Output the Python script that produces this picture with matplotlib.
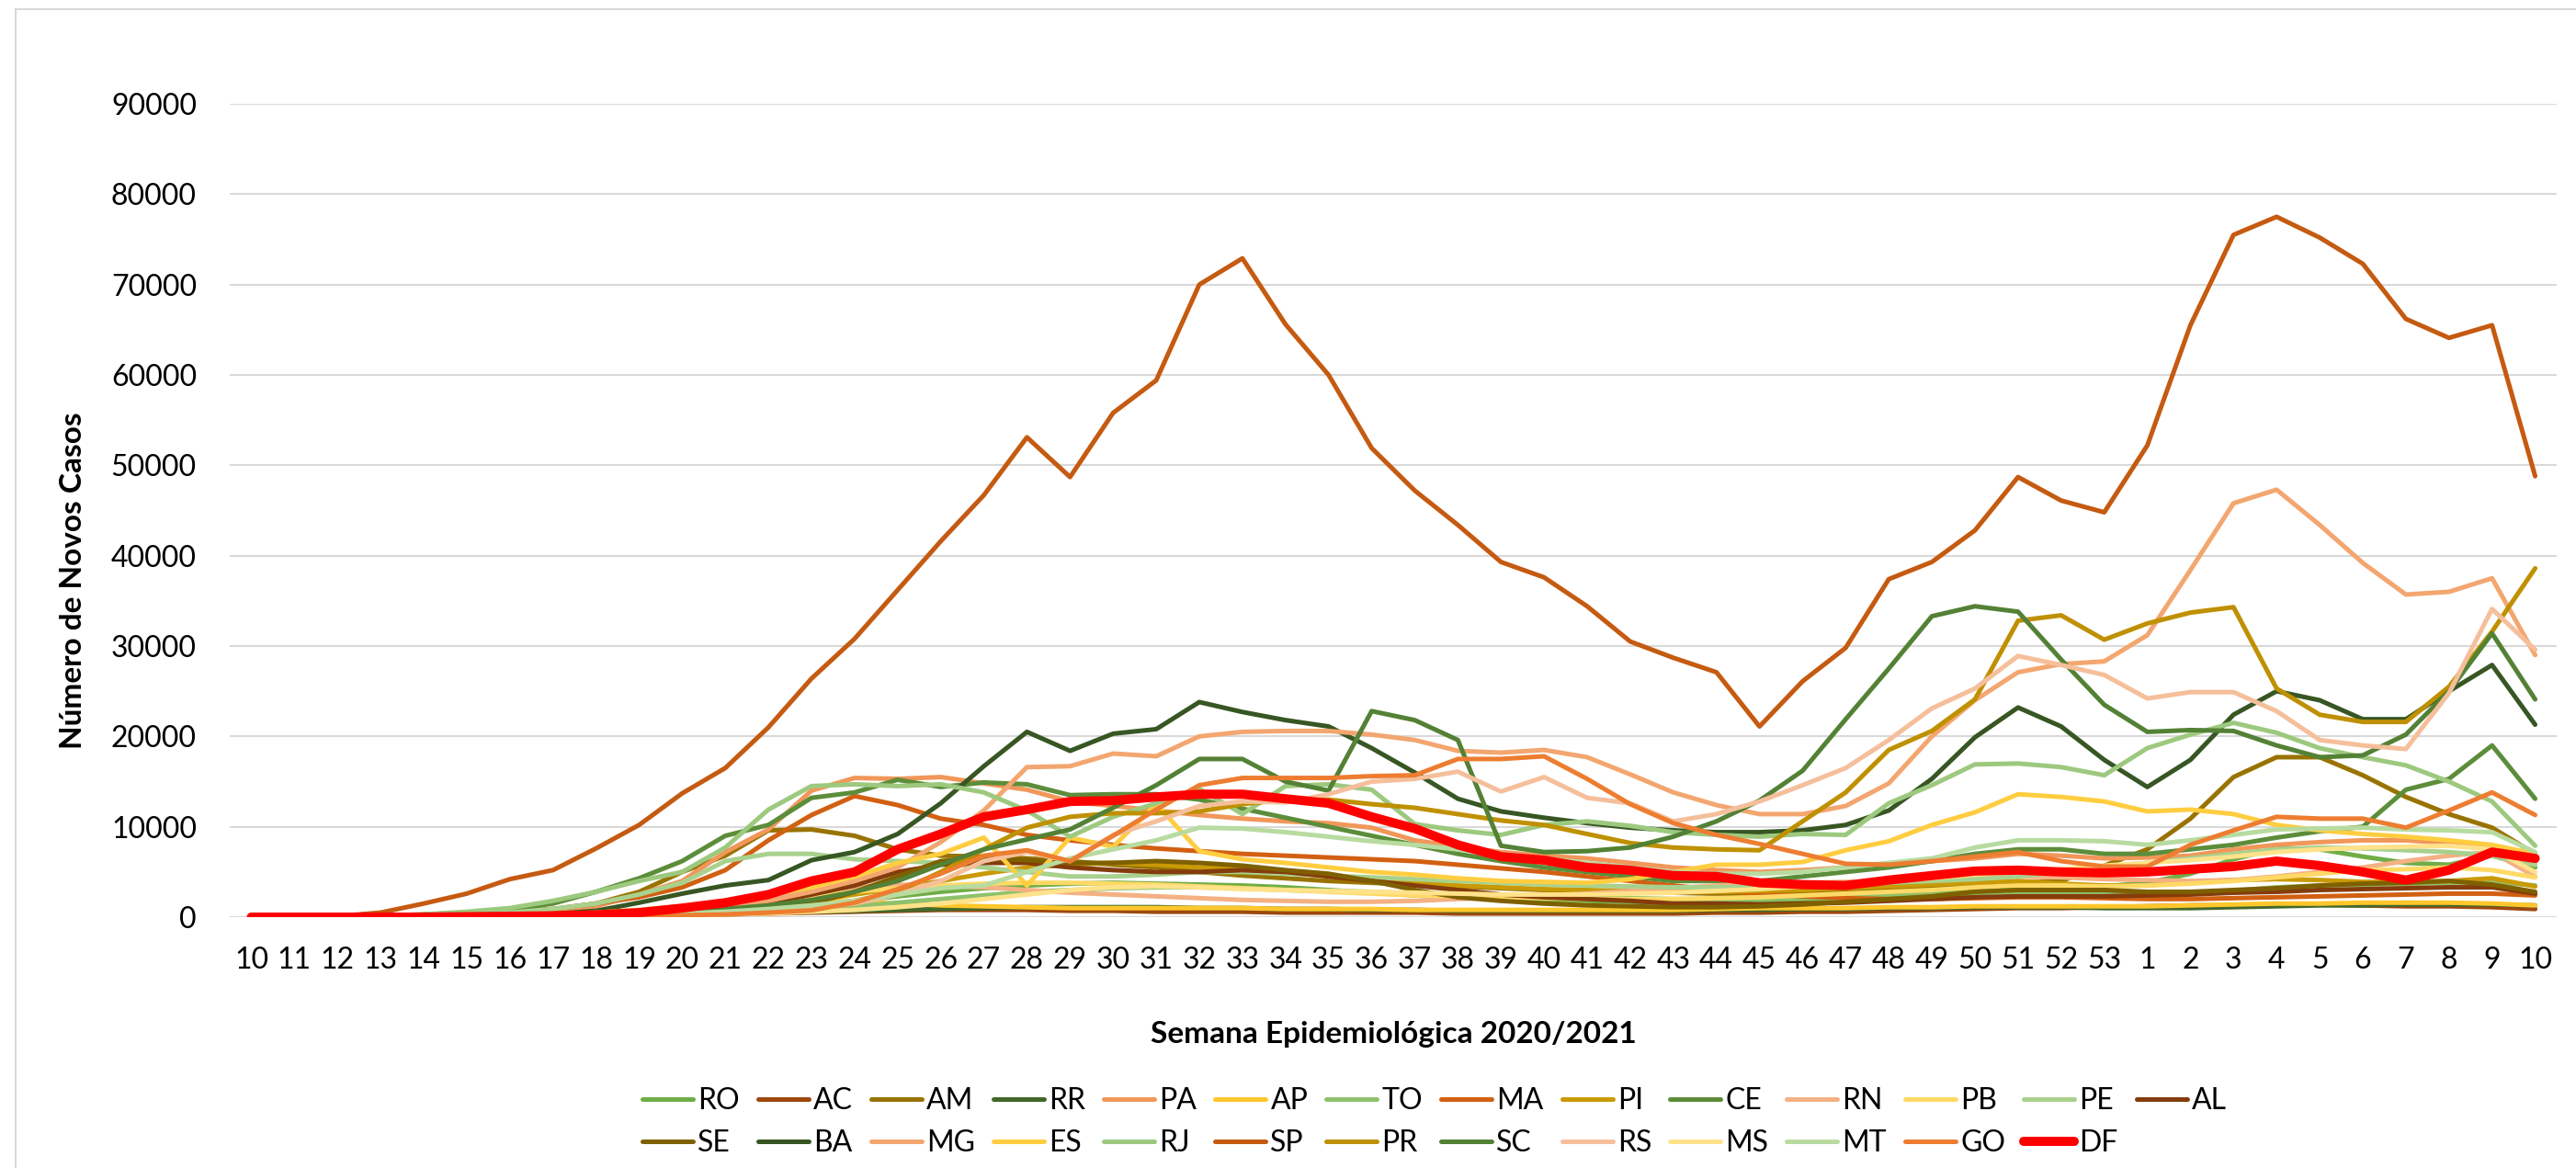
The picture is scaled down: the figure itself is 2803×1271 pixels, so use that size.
import numpy as np
import matplotlib.pyplot as plt
from matplotlib.lines import Line2D

W, H = 2803, 1271
plt.rcParams['font.family'] = ['Lato', 'DejaVu Sans']

# Semanas epidemiológicas 2020 (10-53) e 2021 (1-10)
semanas = [str(s) for s in range(10, 54)] + [str(s) for s in range(1, 11)]

# Novos casos por semana, um array por UF
RO = [0, 0, 0, 0, 0, 0, 50, 100, 150, 250,
      400, 700, 1000, 1400, 1800, 2300, 2800, 3200, 3500, 3700,
      3800, 3700, 3600, 3500, 3300, 3000, 2700, 2400, 2200, 2000,
      1900, 1800, 1700, 1600, 1600, 1700, 1900, 2200, 2500, 2800,
      3000, 3200, 3300, 3400,
      3800, 4800, 6400, 7600, 7500, 6700, 6000, 5800, 6800, 5500]
AC = [0, 0, 0, 0, 0, 0, 0, 50, 100, 150,
      200, 300, 400, 500, 600, 700, 800, 800, 800, 700,
      700, 600, 600, 600, 500, 500, 500, 500, 400, 400,
      400, 400, 400, 400, 500, 500, 600, 600, 700, 800,
      900, 1000, 1000, 1100,
      1200, 1300, 1300, 1400, 1400, 1300, 1200, 1200, 1100, 900]
AM = [0, 0, 0, 50, 150, 300, 500, 800, 1500, 2800,
      5000, 6800, 9600, 9700, 9000, 7500, 6800, 6700, 6500, 6200,
      5800, 5500, 5000, 4600, 4300, 4000, 3800, 3600, 3400, 3200,
      3000, 2900, 2800, 2700, 2600, 2600, 2700, 2900, 3100, 3300,
      3500, 3800, 4000, 5700,
      7500, 10900, 15500, 17700, 17700, 15700, 13300, 11400, 9900, 7000]
RR = [0, 0, 0, 0, 0, 0, 50, 100, 150, 200,
      300, 400, 500, 600, 700, 800, 900, 1000, 1100, 1100,
      1100, 1100, 1000, 1000, 900, 900, 800, 800, 700, 700,
      700, 700, 700, 700, 800, 800, 900, 900, 1000, 1000,
      1100, 1100, 1100, 1000,
      1000, 1000, 1100, 1200, 1300, 1300, 1400, 1400, 1400, 1300]
PA = [0, 0, 0, 50, 100, 200, 400, 700, 1200, 2500,
      4000, 7200, 9700, 14000, 15400, 15300, 15500, 14800, 14100, 12800,
      12300, 11800, 11300, 10900, 10600, 10400, 9900, 8500, 7800, 7200,
      6800, 6500, 6000, 5500, 5200, 5000, 5200, 5500, 5800, 6200,
      6500, 7000, 6800, 6500,
      6600, 6800, 7500, 8000, 8300, 8500, 8500, 8200, 7800, 6000]
AP = [0, 0, 0, 0, 50, 100, 200, 300, 500, 700,
      1000, 1300, 1600, 1800, 1700, 1500, 1300, 1200, 1100, 1000,
      1000, 1000, 1000, 1000, 900, 900, 900, 800, 800, 800,
      800, 800, 800, 800, 900, 1000, 1000, 1000, 1100, 1100,
      1200, 1200, 1200, 1200,
      1200, 1300, 1400, 1500, 1500, 1600, 1600, 1600, 1500, 1300]
TO = [0, 0, 0, 0, 0, 0, 0, 50, 100, 150,
      250, 400, 600, 900, 1200, 1600, 2000, 2400, 2800, 3000,
      3200, 3300, 3300, 3200, 3000, 2900, 2800, 2600, 2500, 2400,
      2300, 2200, 2100, 2000, 2000, 2000, 2100, 2200, 2300, 2500,
      2600, 2700, 2600, 2500,
      2600, 2700, 2900, 3300, 3500, 3600, 3700, 3800, 3900, 3500]
MA = [0, 0, 0, 100, 200, 400, 600, 900, 1500, 2200,
      3300, 5200, 8500, 11300, 13400, 12400, 10900, 10200, 9100, 8500,
      8000, 7600, 7300, 7000, 6800, 6600, 6400, 6200, 5800, 5400,
      5000, 4500, 4000, 3500, 3000, 2600, 2300, 2100, 2000, 2000,
      2100, 2200, 2200, 2100,
      2000, 2000, 2100, 2200, 2300, 2400, 2500, 2600, 2600, 2400]
PI = [0, 0, 0, 0, 0, 0, 50, 100, 150, 300,
      500, 800, 1200, 1800, 2500, 3200, 4000, 4800, 5500, 5800,
      6000, 5800, 5500, 5300, 5000, 4600, 4200, 3800, 3500, 3300,
      3100, 3000, 2900, 2800, 2800, 2900, 3000, 3200, 3400, 3600,
      3800, 4000, 3700, 3500,
      3500, 3900, 4100, 4200, 4100, 3900, 3900, 4000, 4300, 3400]
CE = [0, 0, 50, 150, 300, 500, 800, 1500, 2800, 4300,
      6200, 9000, 10200, 13200, 13800, 15200, 14400, 14900, 14700, 13500,
      13600, 13600, 13000, 12000, 11000, 10000, 9000, 8000, 7000, 6200,
      5500, 5000, 4500, 4000, 4000, 4000, 4500, 5000, 5500, 6200,
      7000, 7500, 7500, 7000,
      7000, 7500, 8000, 8800, 9500, 10000, 14100, 15300, 19000, 13100]
RN = [0, 0, 0, 0, 50, 100, 150, 250, 400, 700,
      1100, 1600, 2200, 2800, 3300, 3600, 3500, 3300, 3000, 2700,
      2500, 2300, 2100, 1900, 1800, 1700, 1700, 1800, 2000, 2200,
      2400, 2600, 2900, 3200, 3500, 3700, 3800, 3900, 4000, 4100,
      4300, 4500, 4400, 4200,
      4100, 4000, 4100, 4500, 5000, 5500, 6200, 6800, 7200, 4500]
PB = [0, 0, 0, 0, 0, 50, 100, 150, 300, 500,
      800, 1200, 1700, 2300, 2800, 3200, 3500, 3700, 3800, 3800,
      3700, 3600, 3400, 3200, 3000, 2800, 2600, 2400, 2300, 2200,
      2100, 2000, 2000, 2000, 2100, 2200, 2400, 2600, 2800, 3000,
      3300, 3500, 3500, 3400,
      3500, 3700, 4000, 4400, 4800, 5200, 5300, 5500, 5200, 4400]
PE = [0, 0, 0, 50, 150, 300, 500, 900, 1500, 2500,
      3800, 6200, 7000, 7000, 6400, 6200, 6000, 5500, 5000, 4500,
      4500, 4700, 5000, 5000, 4800, 4600, 4400, 4200, 4000, 3800,
      3600, 3500, 3400, 3300, 3300, 3400, 3500, 3600, 3800, 4000,
      4200, 4500, 5000, 5500,
      6000, 6500, 7000, 7500, 7700, 7600, 7400, 7200, 6800, 5800]
AL = [0, 0, 0, 0, 0, 0, 50, 100, 150, 200,
      300, 700, 1500, 2500, 3500, 5000, 5800, 6000, 6000, 5500,
      5200, 5000, 5000, 5200, 5000, 4500, 4000, 3500, 3000, 2500,
      2200, 2000, 1800, 1500, 1500, 1400, 1500, 1600, 1800, 2000,
      2200, 2300, 2300, 2300,
      2400, 2500, 2700, 2800, 3000, 3100, 3200, 3300, 3300, 2600]
SE = [0, 0, 0, 0, 0, 0, 0, 50, 100, 150,
      200, 400, 800, 1500, 2800, 4500, 6200, 6500, 6300, 6000,
      6000, 6200, 6000, 5700, 5200, 4800, 4000, 3000, 2200, 1800,
      1500, 1300, 1200, 1100, 1100, 1200, 1400, 1700, 2000, 2300,
      2800, 3000, 3000, 3000,
      2800, 2800, 3000, 3200, 3500, 3700, 3800, 4000, 3600, 2800]
BA = [0, 0, 0, 0, 50, 100, 200, 350, 700, 1600,
      2600, 3500, 4100, 6300, 7200, 9200, 12600, 16700, 20500, 18400,
      20300, 20800, 23800, 22700, 21800, 21100, 18700, 16000, 13100, 11700,
      11000, 10400, 9900, 9600, 9400, 9400, 9600, 10200, 11800, 15300,
      19900, 23200, 21100, 17400,
      14400, 17400, 22400, 25000, 24000, 21900, 21900, 25000, 27900, 21300]
MG = [0, 0, 0, 0, 50, 100, 150, 200, 300, 450,
      700, 1100, 1800, 2800, 4000, 5500, 8300, 11800, 16600, 16700,
      18100, 17800, 20000, 20500, 20600, 20600, 20200, 19600, 18400, 18200,
      18500, 17700, 15800, 13800, 12400, 11400, 11400, 12300, 14800, 20000,
      24000, 27100, 28000, 28300,
      31200, 38400, 45800, 47300, 43400, 39200, 35700, 36000, 37500, 29000]
ES = [0, 0, 0, 0, 50, 100, 200, 300, 500, 800,
      1200, 1800, 2500, 3300, 4500, 6000, 7000, 8800, 3500, 8800,
      7800, 12500, 7300, 6400, 6000, 5500, 5000, 4700, 4300, 4000,
      3900, 3800, 4200, 5000, 5800, 5800, 6100, 7400, 8400, 10200,
      11600, 13600, 13300, 12800,
      11700, 11900, 11400, 10200, 9600, 9200, 8900, 8500, 8000, 7000]
RJ = [0, 0, 0, 100, 300, 600, 1000, 1800, 2800, 4000,
      5000, 7700, 11900, 14500, 14700, 14500, 14700, 13800, 11800, 8900,
      11100, 12600, 14200, 11400, 14500, 14700, 14100, 10300, 9600, 9100,
      10200, 10600, 10100, 9400, 9100, 8900, 9200, 9100, 12600, 14600,
      16900, 17000, 16600, 15700,
      18700, 20200, 21500, 20400, 18700, 17700, 16800, 15000, 12800, 7900]
SP = [0, 0, 100, 500, 1500, 2600, 4200, 5200, 7600, 10200,
      13700, 16500, 21000, 26400, 30800, 36200, 41600, 46700, 53100, 48700,
      55800, 59400, 70000, 72900, 65600, 60000, 51900, 47200, 43400, 39300,
      37600, 34400, 30500, 28700, 27100, 21100, 26100, 29800, 37400, 39300,
      42800, 48700, 46100, 44800,
      52200, 65500, 75500, 77500, 75200, 72300, 66200, 64100, 65500, 48800]
PR = [0, 0, 0, 0, 0, 50, 100, 150, 200, 300,
      400, 550, 800, 1200, 1800, 2800, 5000, 7500, 9900, 11100,
      11500, 11500, 11700, 12500, 13000, 13000, 12500, 12100, 11400, 10700,
      10200, 9200, 8200, 7700, 7500, 7400, 10600, 13800, 18500, 20600,
      24100, 32800, 33400, 30700,
      32500, 33700, 34300, 25300, 22400, 21600, 21600, 25500, 31600, 38600]
SC = [0, 0, 0, 0, 0, 50, 100, 150, 250, 400,
      600, 900, 1300, 1900, 2800, 4000, 5800, 7500, 8600, 9700,
      12100, 14600, 17500, 17500, 15000, 14000, 22800, 21800, 19600, 7900,
      7200, 7300, 7700, 8900, 10600, 12900, 16200, 21900, 27500, 33300,
      34400, 33800, 28500, 23500,
      20500, 20700, 20600, 19000, 17700, 17900, 20200, 25000, 31400, 24100]
RS = [0, 0, 0, 0, 0, 50, 100, 150, 200, 250,
      300, 400, 600, 900, 1500, 2500, 4000, 6200, 7200, 6200,
      9100, 10600, 12300, 12800, 12700, 13600, 15000, 15300, 16100, 13900,
      15500, 13200, 12600, 10600, 11400, 12800, 14600, 16500, 19600, 23100,
      25300, 28900, 27900, 26800,
      24200, 24900, 24900, 22800, 19600, 19000, 18600, 24800, 34100, 29600]
MS = [0, 0, 0, 0, 0, 0, 0, 50, 100, 150,
      200, 300, 400, 600, 800, 1100, 1500, 2000, 2500, 3000,
      3300, 3400, 3300, 3100, 3000, 2900, 2800, 2700, 2600, 2500,
      2500, 2500, 2600, 2700, 2900, 3100, 3400, 3700, 4000, 4300,
      4700, 5000, 5300, 5700,
      6000, 6300, 6700, 7200, 7500, 7700, 7800, 7900, 7500, 5000]
MT = [0, 0, 0, 0, 0, 0, 50, 100, 150, 250,
      400, 600, 900, 1300, 1800, 2500, 3200, 3500, 5000, 6500,
      7500, 8500, 9900, 9800, 9400, 8900, 8400, 8000, 7500, 7000,
      6500, 6000, 5500, 5000, 4800, 4800, 5000, 5500, 6000, 6500,
      7700, 8500, 8500, 8400,
      8000, 8500, 9100, 9700, 9800, 9900, 9700, 9600, 9400, 7200]
GO = [0, 0, 0, 0, 0, 0, 0, 50, 100, 150,
      200, 300, 500, 750, 1600, 3100, 4800, 6800, 7400, 6200,
      9000, 11900, 14600, 15400, 15400, 15400, 15600, 15700, 17500, 17500,
      17800, 15300, 12500, 10400, 9100, 8100, 7000, 5900, 5800, 6200,
      6700, 7200, 6200, 5600,
      5600, 8000, 9600, 11100, 10900, 10900, 9900, 11800, 13800, 11300]
DF = [0, 0, 0, 0, 0, 50, 100, 150, 250, 500,
      1000, 1600, 2500, 4000, 5000, 7500, 9200, 11100, 11900, 12800,
      12900, 13300, 13600, 13600, 13100, 12600, 11100, 9800, 8000, 6700,
      6300, 5500, 5200, 4600, 4500, 3800, 3600, 3500, 4100, 4600,
      5100, 5200, 5000, 4900,
      5000, 5300, 5600, 6200, 5700, 5000, 4100, 5200, 7200, 6500]

series = [
    ("RO", RO, "#70AD47"), ("AC", AC, "#9E480E"), ("AM", AM, "#997300"),
    ("RR", RR, "#43682B"), ("PA", PA, "#F1975A"), ("AP", AP, "#FFC72C"),
    ("TO", TO, "#8FC16C"), ("MA", MA, "#D26012"), ("PI", PI, "#C99A06"),
    ("CE", CE, "#5C8D3A"), ("RN", RN, "#F4B183"), ("PB", PB, "#FFD966"),
    ("PE", PE, "#A9D18E"), ("AL", AL, "#843C0C"), ("SE", SE, "#7F6000"),
    ("BA", BA, "#375623"), ("MG", MG, "#F3A66F"), ("ES", ES, "#FFCD40"),
    ("RJ", RJ, "#9DC97F"), ("SP", SP, "#C55A11"), ("PR", PR, "#BF9000"),
    ("SC", SC, "#538135"), ("RS", RS, "#F5BF9B"), ("MS", MS, "#FFE28A"),
    ("MT", MT, "#B8DBA0"), ("GO", GO, "#ED7D31"), ("DF", DF, "#FF0000"),
]

fig = plt.figure(figsize=(W / 100, H / 100), dpi=100)
ax = fig.add_axes([250 / W, 1 - 998 / H, (2782 - 250) / W, (998 - 113) / H])

x = np.arange(len(semanas))
linhas = {}
for uf, vals, cor in series:
    lw = 7.2 if uf == "DF" else 3.6
    h, = ax.plot(x, vals, color=cor, lw=lw, solid_capstyle="round",
                 solid_joinstyle="round", label=uf)
    linhas[uf] = h

ax.set_xlim(-0.5, len(x) - 0.5)
ax.set_ylim(0, 90000)
ax.set_yticks(np.arange(0, 90001, 10000))
ax.set_xticks(x)
ax.set_xticklabels(semanas)
ax.tick_params(length=0, labelsize=23)
ax.tick_params(axis="y", pad=26)
ax.tick_params(axis="x", pad=23)
ax.grid(axis="y", color="#D9D9D9", lw=1.5)
ax.set_axisbelow(True)
for s in ax.spines.values():
    s.set_visible(False)

fig.text(1516 / W, 1 - 1135 / H, "Semana Epidemiológica 2020/2021", ha="center",
         va="baseline", fontsize=24, fontweight="bold")
fig.text(80 / W, 1 - 632 / H, "Número de Novos Casos", rotation=90, ha="center",
         va="center", fontsize=24, fontweight="bold")

# legenda em duas linhas, preenchida por linha como no Excel
nomes = [s[0] for s in series]
linha1, linha2 = nomes[:14], nomes[14:]
ordem = []
for i in range(14):
    ordem.append(linha1[i])
    if i < len(linha2):
        ordem.append(linha2[i])
fig.legend([linhas[n] for n in ordem], ordem, loc="upper left",
           bbox_to_anchor=(699 / W, 1 - 1183 / H), ncol=14, frameon=False,
           fontsize=23, handlelength=1.72, handletextpad=0.16, columnspacing=0.63,
           labelspacing=0.5, borderpad=0, borderaxespad=0)

# moldura do gráfico
fig.add_artist(Line2D([17 / W, 17 / W], [0, 1 - 10 / H], color="#D9D9D9", lw=1.5,
                      transform=fig.transFigure))
fig.add_artist(Line2D([17 / W, 1], [1 - 10 / H, 1 - 10 / H], color="#D9D9D9", lw=1.5,
                      transform=fig.transFigure))

fig.savefig("out.png", dpi=100)
